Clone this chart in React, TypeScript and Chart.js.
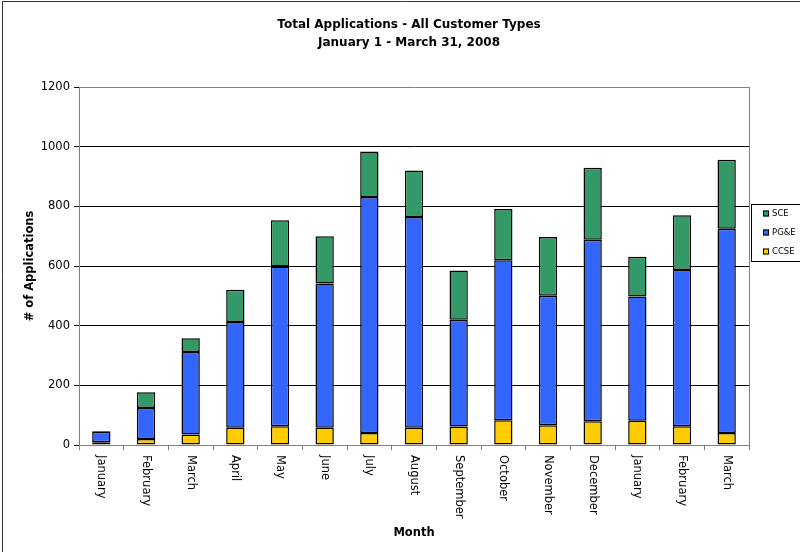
import React, { useEffect, useRef } from "react";
import { Chart, registerables } from "chart.js";

Chart.register(...registerables);

const months = [
  "January", "February", "March", "April", "May", "June", "July", "August",
  "September", "October", "November", "December", "January", "February", "March",
];
const ccse = [9, 20, 35, 58, 63, 58, 40, 58, 62, 83, 66, 80, 81, 63, 40];
const pge = [35, 104, 277, 354, 535, 483, 791, 706, 358, 536, 434, 608, 417, 524, 685];
const sce = [3, 53, 46, 108, 155, 159, 153, 156, 165, 172, 197, 241, 133, 183, 231];

const titleLines = ["Total Applications - All Customer Types", "January 1 - March 31, 2008"];
const yTitle = "# of Applications";
const xTitle = "Month";
const FONT = "'DejaVu Sans', Verdana, sans-serif";

const colors = { SCE: "#339966", PGE: "#3366FF", CCSE: "#FFCC00" };

const decorPlugin = {
  id: "decor",
  afterDraw(chart: any) {
    const ctx = chart.ctx;
    const area = chart.chartArea;
    const xs = chart.scales.x;
    ctx.save();
    // outer border
    ctx.strokeStyle = "#333";
    ctx.lineWidth = 1;
    ctx.beginPath();
    ctx.moveTo(2.5, 552);
    ctx.lineTo(2.5, 1.5);
    ctx.lineTo(800, 1.5);
    ctx.stroke();
    // plot right border
    ctx.strokeStyle = "#808080";
    ctx.beginPath();
    ctx.moveTo(Math.round(area.right) + 0.5, area.top);
    ctx.lineTo(Math.round(area.right) + 0.5, area.bottom);
    ctx.stroke();
    // title
    ctx.fillStyle = "#000";
    ctx.font = `bold 12px ${FONT}`;
    ctx.textAlign = "center";
    ctx.textBaseline = "middle";
    ctx.fillText(titleLines[0], 409, 25);
    ctx.fillText(titleLines[1], 409, 43);
    // axis titles
    ctx.font = `bold 11.5px ${FONT}`;
    ctx.fillText(xTitle, (area.left + area.right) / 2, 533);
    ctx.save();
    ctx.translate(30, (area.top + area.bottom) / 2);
    ctx.rotate(-Math.PI / 2);
    ctx.fillText(yTitle, 0, 0);
    ctx.restore();
    // x labels rotated clockwise
    ctx.font = `11.5px ${FONT}`;
    ctx.textAlign = "left";
    months.forEach((m, i) => {
      const x = xs.getPixelForValue(i);
      ctx.save();
      ctx.translate(x, area.bottom + 10);
      ctx.rotate(Math.PI / 2);
      ctx.fillText(m, 0, 0);
      ctx.restore();
    });
    // legend
    const lx = 751.5, ly = 204.5;
    ctx.strokeStyle = "#000";
    ctx.strokeRect(lx, ly, 60, 57);
    const items = [...chart.data.datasets].reverse();
    ctx.font = `8.5px ${FONT}`;
    items.forEach((ds: any, i: number) => {
      const cy = 213.5 + i * 19;
      ctx.fillStyle = ds.backgroundColor;
      ctx.fillRect(763, cy - 3, 6, 6);
      ctx.strokeStyle = "#000";
      ctx.strokeRect(763.5, cy - 2.5, 5, 5);
      ctx.fillStyle = "#000";
      ctx.textBaseline = "middle";
      ctx.fillText(ds.label, 772, cy);
    });
    ctx.restore();
  },
};

export default function App() {
  const ref = useRef<HTMLCanvasElement>(null);
  useEffect(() => {
    document.body.style.margin = "0";
    const mk = (label: string, data: number[], color: string) => ({
      label,
      data,
      backgroundColor: color,
      borderColor: "#000",
      borderWidth: 1.5,
      borderSkipped: false,
      barPercentage: 0.41,
      categoryPercentage: 1,
    });
    const chart = new Chart(ref.current!, {
      type: "bar",
      data: {
        labels: months,
        datasets: [
          mk("CCSE", ccse, colors.CCSE),
          mk("PG&E", pge, colors.PGE),
          mk("SCE", sce, colors.SCE),
        ],
      },
      options: {
        animation: false,
        responsive: false,
        layout: { padding: { left: 0, top: 87, right: 51, bottom: 0 } },
        plugins: { legend: { display: false }, title: { display: false }, tooltip: { enabled: false } },
        scales: {
          x: {
            stacked: true,
            ticks: { display: false },
            grid: { display: true, drawOnChartArea: false, offset: true, tickLength: 5, color: "#808080" },
            border: { color: "#808080" },
            afterFit(scale: any) { scale.height = 107; },
          },
          y: {
            stacked: true,
            min: 0,
            max: 1200,
            ticks: {
              stepSize: 200,
              color: "#000",
              font: { size: 11.5, family: FONT },
              padding: 4,
              callback: (v: any) => String(v),
            },
            grid: {
              color: (c: any) => (c.tick && (c.tick.value === 1200 || c.tick.value === 0) ? "#808080" : "#000"),
              tickColor: "#000",
              tickLength: 5,
            },
            border: { color: "#808080" },
            afterFit(scale: any) { scale.width = 79; },
          },
        },
      },
      plugins: [decorPlugin],
    });
    return () => chart.destroy();
  }, []);
  return (
    <div style={{ width: 800, height: 552 }}>
      <canvas ref={ref} width={800} height={552} style={{ display: "block" }} />
    </div>
  );
}
